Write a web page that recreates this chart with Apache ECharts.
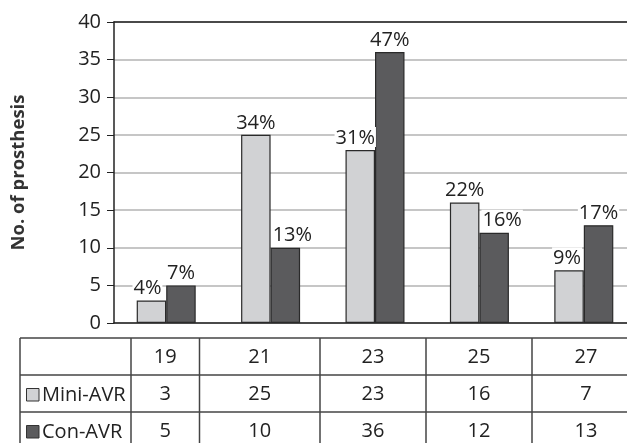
<!DOCTYPE html>
<html>
<head>
<meta charset="utf-8">
<script src="https://cdn.jsdelivr.net/npm/echarts@6/dist/echarts.min.js"></script>
<style>
  html, body { margin: 0; padding: 0; background: #fff; }
  #chart { width: 627px; height: 443px; }
</style>
</head>
<body>
<div id="chart"></div>
<script>
// Prosthesis sizes (mm) and counts per group
const categories = ['19', '21', '23', '25', '27'];
const seriesNames = ['Mini-AVR', 'Con-AVR'];
const miniAVR = [3, 25, 23, 16, 7];
const conAVR = [5, 10, 36, 12, 13];
const miniPct = ['4%', '34%', '31%', '22%', '9%'];
const conPct = ['7%', '13%', '47%', '16%', '17%'];
const yTickStep = 5;
const yMax = 40;

const FONT = '"Open Sans", "DejaVu Sans", sans-serif';
const LIGHT = '#d1d2d4';
const DARK = '#5b5b5d';
const INK = '#222';

// Horizontal nudges for labels that would otherwise collide
const miniShift = [-4, 0, -5, 0, -2];
const conShift = [0, 7, 0, 8, 0];

function barData(values, shifts) {
  return values.map((v, i) => ({ value: v, label: { offset: [shifts[i], 0] } }));
}

const chart = echarts.init(document.getElementById('chart'));

const barLabel = (pcts) => ({
  show: true,
  position: 'top',
  distance: 3,
  formatter: (p) => pcts[p.dataIndex],
  color: INK,
  fontFamily: FONT,
  fontSize: 20,
  backgroundColor: '#fff',
  padding: [0, 1, -2, 1],
  lineHeight: 22
});

// Data table under the plot: column edges and row edges
const colEdges = [20, 131, 199.5, 320, 426, 532, 640];
const rowEdges = [338, 375, 412, 449];
const tableGraphics = [];
const lineStyle = { stroke: '#444', lineWidth: 1.5 };
rowEdges.slice(0, 3).forEach((y) => {
  tableGraphics.push({ type: 'line', shape: { x1: colEdges[0], y1: y, x2: 640, y2: y }, style: lineStyle, silent: true });
});
colEdges.forEach((x) => {
  tableGraphics.push({ type: 'line', shape: { x1: x, y1: rowEdges[0], x2: x, y2: 449 }, style: lineStyle, silent: true });
});
const textStyle = (x, y, t, align) => ({
  type: 'text', x: x, y: y,
  style: { text: t, fill: INK, font: '20px ' + FONT, textAlign: align || 'center', textVerticalAlign: 'middle' },
  silent: true
});
const rowMid = (r) => (rowEdges[r] + rowEdges[r + 1]) / 2 + 0.5;
categories.forEach((c, i) => {
  const cx = (colEdges[i + 1] + colEdges[i + 2]) / 2;
  tableGraphics.push(textStyle(cx, rowMid(0), c));
  tableGraphics.push(textStyle(cx, rowMid(1), String(miniAVR[i])));
  tableGraphics.push(textStyle(cx, rowMid(2), String(conAVR[i])));
});
[LIGHT, DARK].forEach((fill, k) => {
  const cy = rowMid(k + 1) + 1;
  tableGraphics.push({
    type: 'rect', shape: { x: 26.5, y: cy - 6.5, width: 12.5, height: 12.5 },
    style: { fill: fill, stroke: '#333', lineWidth: 1 }, silent: true
  });
  tableGraphics.push(textStyle(42, cy, seriesNames[k], 'left'));
});

chart.setOption({
  animation: false,
  backgroundColor: '#fff',
  grid: { left: 114, top: 22, width: 522, height: 301, containLabel: false, outerBoundsMode: 'none' },
  xAxis: [
    {
      type: 'category',
      data: categories,
      axisLine: { show: true, lineStyle: { color: INK, width: 1.5 } },
      axisTick: { show: false },
      axisLabel: { show: false },
      splitLine: { show: false }
    },
    {
      type: 'category',
      position: 'top',
      data: categories,
      axisLine: { show: true, lineStyle: { color: INK, width: 1.5 } },
      axisTick: { show: false },
      axisLabel: { show: false }
    }
  ],
  yAxis: {
    type: 'value',
    min: 0,
    max: yMax,
    interval: yTickStep,
    name: 'No. of prosthesis',
    nameLocation: 'middle',
    nameGap: 86,
    nameTextStyle: { fontFamily: FONT, fontSize: 18.5, fontWeight: 'bold', color: '#333' },
    axisLine: { show: true, lineStyle: { color: INK, width: 1.5 } },
    axisTick: { show: true, length: 7, lineStyle: { color: INK, width: 1 } },
    axisLabel: { margin: 13, fontFamily: FONT, fontSize: 20, color: INK },
    splitLine: { show: true, lineStyle: { color: '#b3b3b3', width: 1.5 } }
  },
  series: [
    {
      name: seriesNames[0],
      type: 'bar',
      data: barData(miniAVR, miniShift),
      barWidth: 29.5,
      barGap: '0%',
      itemStyle: { color: LIGHT, borderColor: '#2a2a2a', borderWidth: 1.2 },
      label: barLabel(miniPct)
    },
    {
      name: seriesNames[1],
      type: 'bar',
      data: barData(conAVR, conShift),
      barWidth: 29.5,
      barGap: '0%',
      itemStyle: { color: DARK, borderColor: '#2a2a2a', borderWidth: 1.2 },
      label: barLabel(conPct)
    }
  ],
  graphic: tableGraphics
});
</script>
</body>
</html>
